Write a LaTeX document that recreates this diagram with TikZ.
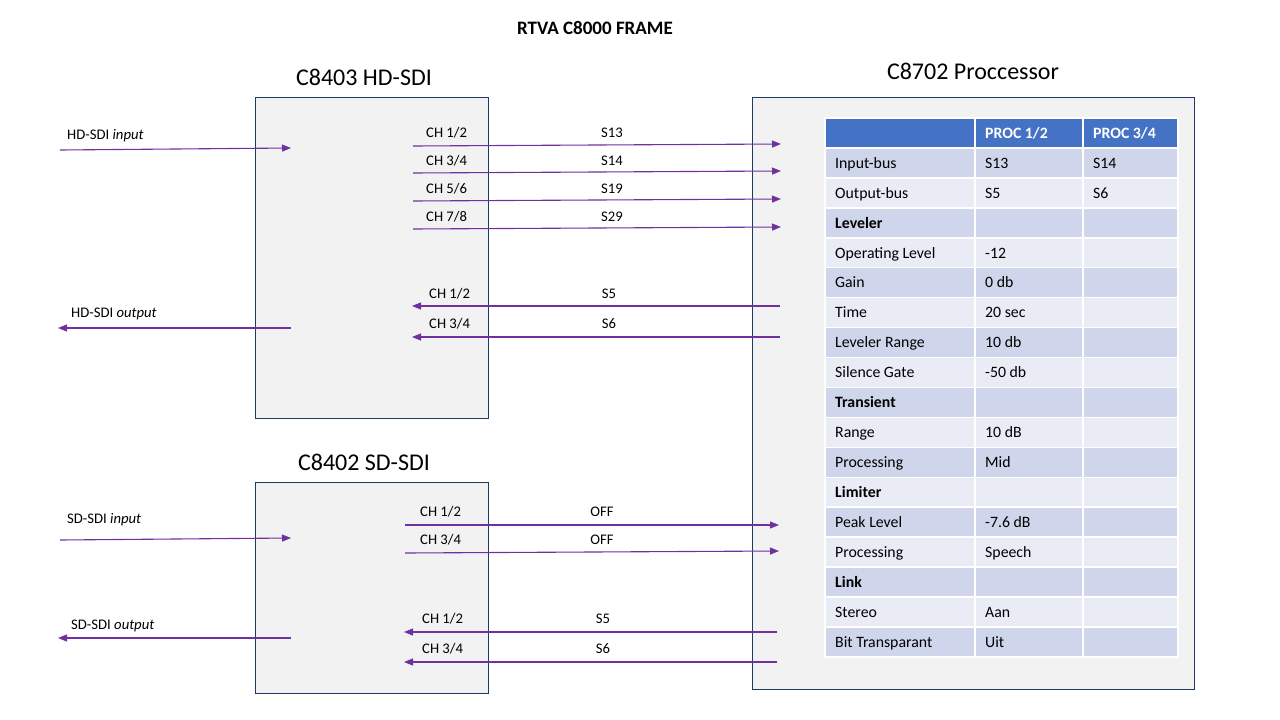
\documentclass[tikz,border=0pt]{standalone}
\usepackage{fontspec}
\setmainfont{Carlito}
\usetikzlibrary{arrows.meta}
\definecolor{purp}{HTML}{7030A0}
\definecolor{navy}{HTML}{1F3864}
\definecolor{boxfill}{HTML}{F2F2F2}
\definecolor{hdr}{HTML}{4472C4}
\definecolor{rowA}{HTML}{CFD5EA}
\definecolor{rowB}{HTML}{E9EBF5}
\newcommand\tblrow[4]{%
  \pgfmathsetmacro\ytop{118+#1*29.94}%
  \pgfmathsetmacro\ybot{118+(#1+1)*29.94}%
  \pgfmathsetmacro\ymid{118+(#1+0.5)*29.94}%
  \ifodd#1\def\rc{rowA}\else\def\rc{rowB}\fi
  \path[cell, fill=\rc] (825,\ytop) rectangle (975,\ybot);
  \path[cell, fill=\rc] (975,\ytop) rectangle (1083,\ybot);
  \path[cell, fill=\rc] (1083,\ytop) rectangle (1178,\ybot);
  \node[tbl] (ra#1) at (835,\ymid) {#2};
  \node[tbl] (rb#1) at (985,\ymid) {#3};
  \node[tbl] (rc#1) at (1093,\ymid) {#4};
}
\begin{document}
\begin{tikzpicture}[x=1pt,y=-1pt,
  every node/.style={inner sep=0pt, font=\fontsize{14.67}{17}\selectfont, text height=13pt, text depth=2pt},
  arr/.style={draw=purp, line width=1.1pt, -{Triangle[length=9pt,width=7pt]}},
  module/.style={draw=navy, fill=boxfill, line width=0.9pt, inner sep=0pt, anchor=north west, text height=, text depth=},
  cell/.style={draw=white, line width=1.5pt},
  tbl/.style={anchor=west, font=\fontsize{15.8}{18}\selectfont, text height=12.6pt, text depth=2pt},
  bigtitle/.style={font=\fontsize{24}{28}\selectfont, text height=15.5pt, text depth=0pt},
  lbl/.style={anchor=west}]
\useasboundingbox (0,0) rectangle (1280,720);
\fill[white] (0,0) rectangle (1280,720);

% titles
\node[font=\bfseries\fontsize{19}{22}\selectfont, text height=11pt, text depth=0pt] (frame) at (595,28.8) {RTVA C8000 FRAME};
\node[bigtitle] (hdtitle) at (364,77.5) {C8403 HD-SDI};
\node[bigtitle] (proctitle) at (973,71.8) {C8702 Proccessor};
\node[bigtitle] (sdtitle) at (364,462.3) {C8402 SD-SDI};

% module boxes
\node[module, minimum width=233, minimum height=321] (hdbox) at (255,97) {};
\node[module, minimum width=233, minimum height=211] (sdbox) at (255,482) {};
\node[module, minimum width=442, minimum height=592] (procbox) at (752,97) {};

% table header
\path[cell, fill=hdr] (825,118) rectangle (975,148);
\path[cell, fill=hdr] (975,118) rectangle (1083,148);
\path[cell, fill=hdr] (1083,118) rectangle (1178,148);
\node[tbl, text=white, font=\bfseries\fontsize{15.8}{18}\selectfont] (h1) at (985,133) {PROC 1/2};
\node[tbl, text=white, font=\bfseries\fontsize{15.8}{18}\selectfont] (h2) at (1093,133) {PROC 3/4};

\tblrow{1}{Input-bus}{S13}{S14}
\tblrow{2}{Output-bus}{S5}{S6}
\tblrow{3}{\textbf{Leveler}}{}{}
\tblrow{4}{Operating Level}{-12}{}
\tblrow{5}{Gain}{0 db}{}
\tblrow{6}{Time}{20 sec}{}
\tblrow{7}{Leveler Range}{10 db}{}
\tblrow{8}{Silence Gate}{-50 db}{}
\tblrow{9}{\textbf{Transient}}{}{}
\tblrow{10}{Range}{10 dB}{}
\tblrow{11}{Processing}{Mid}{}
\tblrow{12}{\textbf{Limiter}}{}{}
\tblrow{13}{Peak Level}{-7.6 dB}{}
\tblrow{14}{Processing}{Speech}{}
\tblrow{15}{\textbf{Link}}{}{}
\tblrow{16}{Stereo}{Aan}{}
\tblrow{17}{Bit Transparant}{Uit}{}

% ---------- HD-SDI module ----------
\node[lbl] (hdinl) at (67,134) {HD-SDI \textit{input}};
\coordinate (hdin0) at (60,150);
\coordinate (hdin1) at (291,148);
\draw[arr] (hdin0) -- (hdin1);

\node[lbl] (hdoutl) at (71,312) {HD-SDI \textit{output}};
\coordinate (hdout0) at (291,328);
\coordinate (hdout1) at (58,328);
\draw[arr] (hdout0) -- (hdout1);

\node[lbl] (hc1) at (426,132) {CH 1/2};
\node[lbl] (hc2) at (426,160) {CH 3/4};
\node[lbl] (hc3) at (426,188) {CH 5/6};
\node[lbl] (hc4) at (426,216) {CH 7/8};
\node (hs1) at (612,132) {S13};
\node (hs2) at (612,160) {S14};
\node (hs3) at (612,188) {S19};
\node (hs4) at (612,216) {S29};
\coordinate (ha1) at (413,146); \coordinate (hb1) at (781,144);
\coordinate (ha2) at (413,173); \coordinate (hb2) at (781,171);
\coordinate (ha3) at (413,201); \coordinate (hb3) at (781,199);
\coordinate (ha4) at (413,229); \coordinate (hb4) at (781,227);
\draw[arr] (ha1) -- (hb1);
\draw[arr] (ha2) -- (hb2);
\draw[arr] (ha3) -- (hb3);
\draw[arr] (ha4) -- (hb4);

\node[lbl] (hr1) at (429,293) {CH 1/2};
\node[lbl] (hr2) at (429,323) {CH 3/4};
\node (hrs1) at (609,293) {S5};
\node (hrs2) at (609,323) {S6};
\coordinate (hra1) at (780,306); \coordinate (hrb1) at (412,306);
\coordinate (hra2) at (780,337); \coordinate (hrb2) at (412,337);
\draw[arr] (hra1) -- (hrb1);
\draw[arr] (hra2) -- (hrb2);

% ---------- SD-SDI module ----------
\node[lbl] (sdinl) at (67,518) {SD-SDI \textit{input}};
\coordinate (sdin0) at (60,540);
\coordinate (sdin1) at (291,538);
\draw[arr] (sdin0) -- (sdin1);

\node[lbl] (sdoutl) at (71,624) {SD-SDI \textit{output}};
\coordinate (sdout0) at (291,638);
\coordinate (sdout1) at (58,638);
\draw[arr] (sdout0) -- (sdout1);

\node[lbl] (sc1) at (420,511) {CH 1/2};
\node[lbl] (sc2) at (420,539) {CH 3/4};
\node (ss1) at (602,511) {OFF};
\node (ss2) at (602,539) {OFF};
\coordinate (sa1) at (405,525); \coordinate (sb1) at (779,525);
\coordinate (sa2) at (405,553); \coordinate (sb2) at (779,551);
\draw[arr] (sa1) -- (sb1);
\draw[arr] (sa2) -- (sb2);

\node[lbl] (sr1) at (422,618) {CH 1/2};
\node[lbl] (sr2) at (422,648) {CH 3/4};
\node (srs1) at (603,618) {S5};
\node (srs2) at (603,648) {S6};
\coordinate (sra1) at (777,632); \coordinate (srb1) at (404,632);
\coordinate (sra2) at (777,662); \coordinate (srb2) at (404,662);
\draw[arr] (sra1) -- (srb1);
\draw[arr] (sra2) -- (srb2);
\end{tikzpicture}
\end{document}
